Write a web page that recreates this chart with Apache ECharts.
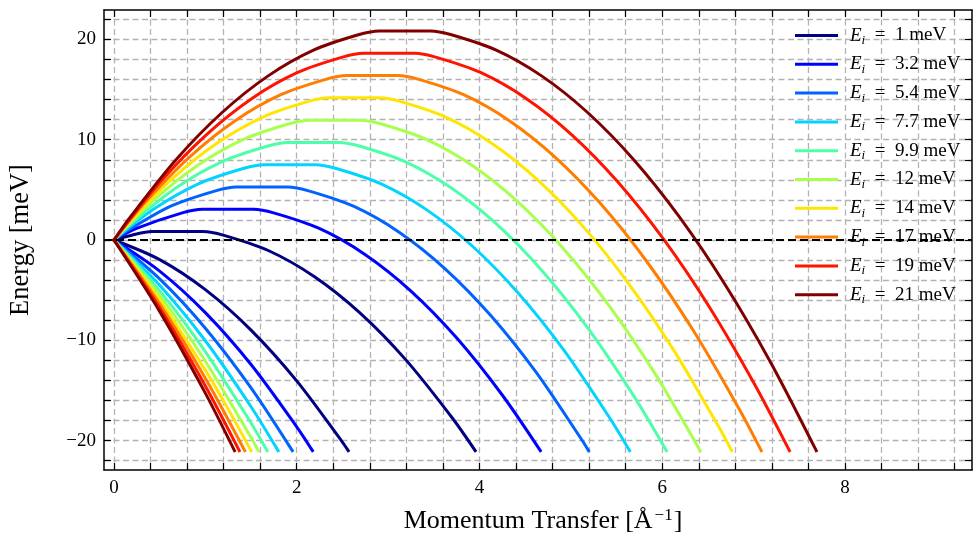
<!DOCTYPE html>
<html><head><meta charset="utf-8">
<script src="https://cdn.jsdelivr.net/npm/echarts@6/dist/echarts.min.js"></script>
<style>html,body{margin:0;padding:0;background:#fff}#c{width:973px;height:540px}</style>
</head><body><div id="c"></div>
<script>
// Incident energies (legend labels, meV)
const eiLabels = ['1', '3.2', '5.4', '7.7', '9.9', '12', '14', '17', '19', '21'];

// Kinematic-limit curves: [Q (1/Å), E (meV)]
const curveEi1 = [[2.5637,-21],[2.5,-20.148],[2.0,-14.046],[1.5,-8.981],[1.0,-4.951],[0.5,-1.957],[0,0],[0.1947,0.482],[0.4147,0.838],[0.9747,0.838],[1.1947,0.482],[1.6947,-1.072],[2.1947,-3.662],[2.6947,-7.288],[3.1947,-11.951],[3.6947,-17.649],[3.9531,-21]];
const curveEi3 = [[2.1720,-21],[2.0,-18.624],[1.5,-12.414],[1.0,-7.240],[0.5,-3.102],[0,0],[0.2470,1.150],[0.7470,2.704],[0.9670,3.060],[1.5270,3.060],[1.7470,2.704],[2.2470,1.150],[2.7470,-1.440],[3.2470,-5.066],[3.7470,-9.728],[4.2470,-15.427],[4.6660,-21]];
const curveEi5 = [[1.9514,-21],[1.5,-14.739],[1.0,-8.790],[0.5,-3.877],[0,0],[0.1210,0.782],[0.6210,3.372],[1.1210,4.926],[1.3410,5.282],[1.9010,5.282],[2.1210,4.926],[2.6210,3.372],[3.1210,0.782],[3.6210,-2.844],[4.1210,-7.506],[4.6210,-13.204],[5.1210,-19.939],[5.1934,-21]];
const curveEi8 = [[1.7960,-21],[1.5,-16.620],[1.0,-10.044],[0.5,-4.504],[0,0],[0.4235,3.004],[0.9235,5.595],[1.4235,7.149],[1.6435,7.504],[2.2035,7.504],[2.4235,7.149],[2.9235,5.595],[3.4235,3.004],[3.9235,-0.622],[4.4235,-5.284],[4.9235,-10.982],[5.4235,-17.717],[5.6430,-21]];
const curveEi10 = [[1.6764,-21],[1.5,-18.242],[1.0,-11.125],[0.5,-5.045],[0,0],[0.1846,1.600],[0.6846,5.227],[1.1846,7.817],[1.6846,9.371],[1.9046,9.726],[2.4646,9.726],[2.6846,9.371],[3.1846,7.817],[3.6846,5.227],[4.1846,1.600],[4.6846,-3.062],[5.1846,-8.760],[5.6846,-15.494],[6.0456,-21]];
const curveEi12 = [[1.5798,-21],[1.5,-19.691],[1.0,-12.091],[0.5,-5.528],[0,0],[0.4176,3.823],[0.9176,7.449],[1.4176,10.039],[1.9176,11.593],[2.1376,11.949],[2.6976,11.949],[2.9176,11.593],[3.4176,10.039],[3.9176,7.449],[4.4176,3.823],[4.9176,-0.840],[5.4176,-6.538],[5.9176,-13.272],[6.4150,-21]];
const curveEi14 = [[1.4993,-21],[1.25,-16.862],[1.0,-12.972],[0.5,-5.968],[0,0],[0.1301,1.383],[0.6301,6.045],[1.1301,9.671],[1.6301,12.261],[2.1301,13.815],[2.3501,14.171],[2.9101,14.171],[3.1301,13.815],[3.6301,12.261],[4.1301,9.671],[4.6301,6.045],[5.1301,1.383],[5.6301,-4.316],[6.1301,-11.050],[6.6301,-18.820],[6.7595,-21]];
const curveEi17 = [[1.4307,-21],[1.0,-13.786],[0.5,-6.375],[0,0],[0.3266,3.605],[0.8266,8.267],[1.3266,11.893],[1.8266,14.483],[2.3266,16.038],[2.5466,16.393],[3.1066,16.393],[3.3266,16.038],[3.8266,14.483],[4.3266,11.893],[4.8266,8.267],[5.3266,3.605],[5.8266,-2.093],[6.3266,-8.828],[6.8266,-16.598],[7.0839,-21]];
const curveEi19 = [[1.3711,-21],[1.0,-14.548],[0.5,-6.756],[0,0],[0.5104,5.827],[1.0104,10.489],[1.5104,14.116],[2.0104,16.706],[2.5104,18.260],[2.7304,18.615],[3.2904,18.615],[3.5104,18.260],[4.0104,16.706],[4.5104,14.116],[5.0104,10.489],[5.5104,5.827],[6.0104,0.129],[6.5104,-6.605],[7.0104,-14.376],[7.3918,-21]];
const curveEi21 = [[1.3187,-21],[1.0,-15.265],[0.5,-7.115],[0,0],[0.1835,2.351],[0.6835,8.049],[1.1835,12.712],[1.6835,16.338],[2.1835,18.928],[2.6835,20.482],[2.9035,20.838],[3.4635,20.838],[3.6835,20.482],[4.1835,18.928],[4.6835,16.338],[5.1835,12.712],[5.6835,8.049],[6.1835,2.351],[6.6835,-4.383],[7.1835,-12.154],[7.6857,-21]];

// Axis ticks and labels
const xTicks = [0,0.4,0.8,1.2,1.6,2,2.4,2.8,3.2,3.6,4,4.4,4.8,5.2,5.6,6,6.4,6.8,7.2,7.6,8,8.4,8.8,9.2];
const xLabels = [0,2,4,6,8];
const yTicks = [-22,-20,-18,-16,-14,-12,-10,-8,-6,-4,-2,0,2,4,6,8,10,12,14,16,18,20,22];
const yLabels = [-20,-10,0,10,20];
const zeroLine = [0];

// Styles
const lineColors = ['#000080','#0000ff','#0063ff','#00d4ff','#4effa9','#a9ff4e','#ffe600','#ff7d00','#ff1400','#800000'];
const FONT = 'Liberation Serif';
const X_MIN = -0.109, X_MAX = 9.39, Y_MIN = -22.93, Y_MAX = 22.93;

const curves = [curveEi1, curveEi3, curveEi5, curveEi8, curveEi10, curveEi12, curveEi14, curveEi17, curveEi19, curveEi21];
const names = eiLabels.map(v => 'Ei=' + v);

const tickStyle = {show:true, inside:true, length:7, lineStyle:{color:'#000', width:1.2}};
const lineAxis = {show:true, onZero:false, lineStyle:{color:'#000', width:1.5}};
const gridLine = {show:true, lineStyle:{color:'#b3b3b3', width:1.3, type:[6,3.5]}};

const series = [];
curves.forEach((c, i) => {
  const k = c.findIndex(p => p[0] === 0 && p[1] === 0);
  [c.slice(0, k + 1), c.slice(k)].forEach(part => {
    series.push({
      name: names[i], type:'line', data:part, showSymbol:false, symbol:'none',
      smooth:0.3,
      color: lineColors[i],
      lineStyle:{color: lineColors[i], width:3, join:'round', cap:'square'},
      z: 3, silent:true, animation:false
    });
  });
});
series.push({
  name:'zero', type:'line', data:[], z:10, animation:false, silent:true,
  markLine:{silent:true, symbol:['none','none'], label:{show:false}, animation:false,
    lineStyle:{color:'#000', width:2, type:[8,4]},
    data: zeroLine.map(v => ({yAxis:v}))}
});

const chart = echarts.init(document.getElementById('c'), null, {renderer:'canvas'});
chart.setOption({
  animation:false,
  backgroundColor:'#fff',
  grid:{left:104, right:1, top:10, bottom:70, containLabel:false, outerBoundsMode:'none'},
  xAxis:[{
    type:'value', min:X_MIN, max:X_MAX, position:'bottom',
    axisLine: lineAxis,
    axisTick: Object.assign({customValues:xTicks}, tickStyle),
    splitLine: gridLine,
    axisLabel:{customValues:xLabels, fontFamily:FONT, fontSize:19, color:'#000', margin:9},
    name:'Momentum Transfer [Å{sup|−1}]', nameLocation:'middle', nameGap:37,
    nameTextStyle:{fontFamily:FONT, fontSize:26, color:'#000', padding:[0,0,0,10],
      rich:{sup:{fontFamily:FONT, fontSize:17, color:'#000', padding:[0,1,12,2]}}}
  },{
    type:'value', min:X_MIN, max:X_MAX, position:'top',
    axisLine: lineAxis,
    axisTick: Object.assign({customValues:xTicks}, tickStyle),
    splitLine:{show:false}, axisLabel:{show:false}
  }],
  yAxis:[{
    type:'value', min:Y_MIN, max:Y_MAX, position:'left',
    axisLine: lineAxis,
    axisTick: Object.assign({customValues:yTicks}, tickStyle),
    splitLine: gridLine,
    axisLabel:{customValues:yLabels, fontFamily:FONT, fontSize:19, color:'#000', margin:8,
      formatter: v => String(v).replace('-', '\u2212')},
    name:'Energy [meV]', nameLocation:'middle', nameGap:69, nameRotate:90,
    nameTextStyle:{fontFamily:FONT, fontSize:26.5, color:'#000'}
  },{
    type:'value', min:Y_MIN, max:Y_MAX, position:'right',
    axisLine: lineAxis,
    axisTick: Object.assign({customValues:yTicks}, tickStyle),
    splitLine:{show:false}, axisLabel:{show:false}
  }],
  legend:{
    data: names, orient:'vertical', left:790, top:19, z:5,
    icon:'rect', itemWidth:43, itemHeight:3, itemGap:5.8,
    formatter: n => '{it|E}{sub|i}{t|  =  ' + n.slice(3) + ' meV}',
    textStyle:{fontFamily:FONT, fontSize:19, color:'#000', lineHeight:20,
      rich:{
        it:{fontFamily:FONT, fontStyle:'italic', fontSize:19, color:'#000', lineHeight:20, padding:[0,0,0,7]},
        sub:{fontFamily:FONT, fontStyle:'italic', fontSize:13, color:'#000', lineHeight:10, padding:[10,0,0,0]},
        t:{fontFamily:FONT, fontSize:19, color:'#000', lineHeight:20}
      }},
    selectedMode:false
  },
  series: series
});
</script></body></html>
